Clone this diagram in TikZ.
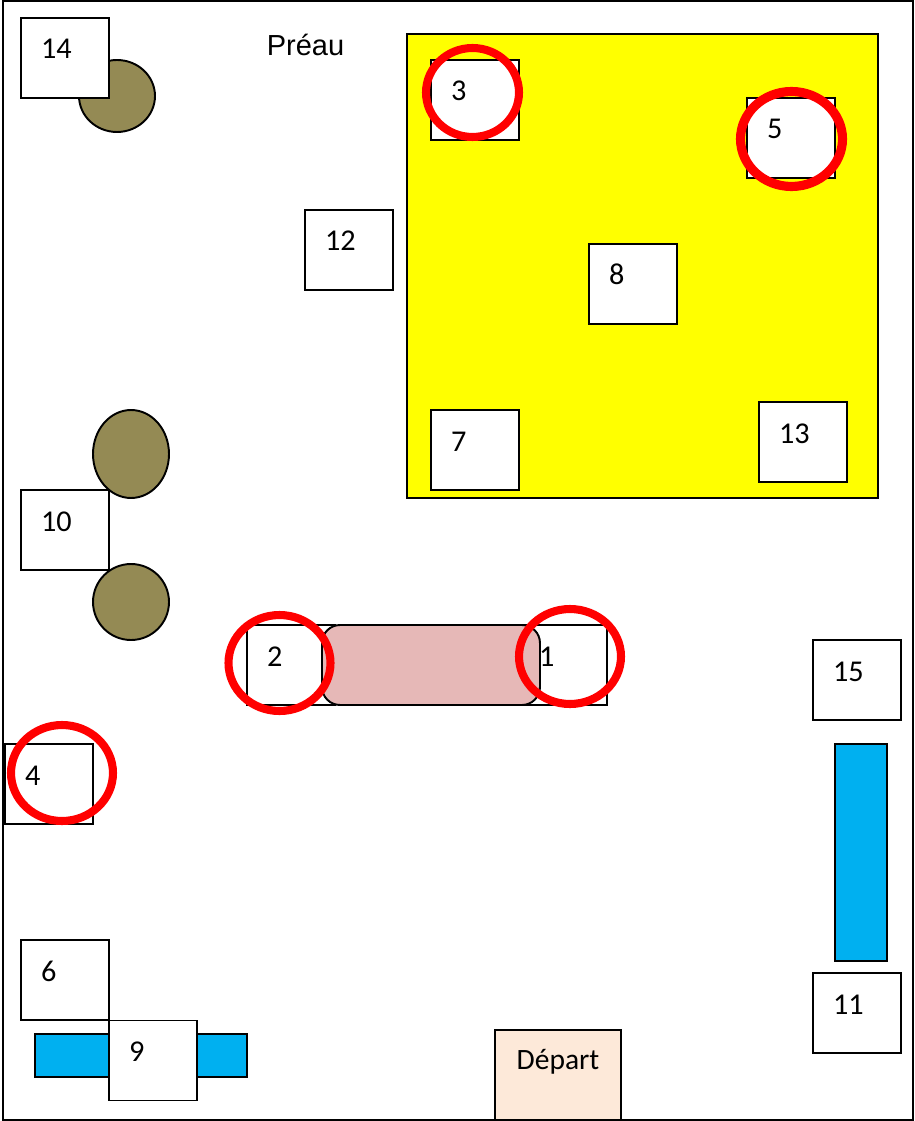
\documentclass[tikz,border=0pt]{standalone}
\usepackage{fontspec}
\setmainfont{Carlito}
\newfontfamily\yardfont{Liberation Sans}
\usetikzlibrary{shapes.geometric}
\definecolor{courtyellow}{HTML}{FFFF00}
\definecolor{pondblue}{HTML}{00B0F0}
\definecolor{treebrown}{HTML}{948A54}
\definecolor{benchpink}{HTML}{E6B8B7}
\definecolor{startpeach}{HTML}{FDE9D9}
\tikzset{
  post/.style={draw,line width=1.1pt,fill=white,align=left,text width=.96cm,inner xsep=.40cm,inner ysep=0pt,outer sep=0pt,
    text height=.82cm,text depth=.78cm,font=\fontsize{17.2}{20}\selectfont},
  tree/.style={draw,ellipse,line width=1.1pt,fill=treebrown,inner sep=0pt,outer sep=0pt},
  ring/.style={draw=red,ellipse,line width=4.6pt,inner sep=0pt,outer sep=0pt},
  water/.style={draw,line width=1.1pt,fill=pondblue,inner sep=0pt,outer sep=0pt}
}
\begin{document}
\begin{tikzpicture}[x=0.02cm,y=-0.02cm]
  \useasboundingbox (0,0) rectangle (914,1121);
  \draw[line width=1.1pt,fill=white] (3,1) rectangle (913,1120);
  \node[draw,line width=1.1pt,fill=courtyellow,minimum width=9.42cm,minimum height=9.28cm,inner sep=0pt] (court) at (642.5,266) {};
  \node[font=\yardfont\fontsize{16.5}{20}\selectfont] (yard) at (305.5,45) {Préau};
  \node[tree,minimum width=1.52cm,minimum height=1.44cm] (treeA) at (117,96) {};
  \node[tree,minimum width=1.52cm,minimum height=1.76cm] (treeB) at (131,454) {};
  \node[tree,minimum width=1.52cm,minimum height=1.52cm] (treeC) at (131,602) {};
  \node[water,minimum width=1.05cm,minimum height=4.34cm] (pondA) at (861,852.5) {};
  \node[water,minimum width=4.24cm,minimum height=.86cm] (pondB) at (141,1055.5) {};
  \node[post] (p14) at (65,58) {14};
  \node[post] (p3) at (475,100) {3};
  \node[post] (p5) at (791,138) {5};
  \node[post] (p12) at (349,250) {12};
  \node[post] (p8) at (633,284) {8};
  \node[post] (p7) at (475,450) {7};
  \node[post] (p13) at (803,442) {13};
  \node[post] (p10) at (65,530) {10};
  \node[post] (p2) at (291,665) {2};
  \node[post] (p1) at (563,665) {1};
  \node[post] (p15) at (857,680) {15};
  \node[post] (p4) at (49,784) {4};
  \node[post] (p6) at (65,980) {6};
  \node[post] (p11) at (857,1013) {11};
  \node[post] (p9) at (153,1060.5) {9};
  \node[draw,line width=1.1pt,fill=benchpink,rounded corners=.36cm,minimum width=4.36cm,minimum height=1.6cm,inner sep=0pt] (bench) at (431,665) {};
  \node[draw,line width=1.1pt,fill=startpeach,align=center,text width=2.52cm,inner sep=0pt,text height=.78cm,text depth=1.02cm,font=\fontsize{16.8}{20}\selectfont] (start) at (558,1075) {Départ};
  \node[ring,minimum width=1.86cm,minimum height=1.78cm] (r3) at (472.5,92.5) {};
  \node[ring,line width=5.2pt,minimum width=2.04cm,minimum height=1.9cm] (r5) at (791.5,139) {};
  \node[ring,minimum width=2.04cm,minimum height=1.92cm] (r2) at (279.5,663) {};
  \node[ring,minimum width=2.04cm,minimum height=1.9cm] (r1) at (570,656.5) {};
  \node[ring,minimum width=2.04cm,minimum height=1.92cm] (r4) at (62,773) {};
\end{tikzpicture}
\end{document}
